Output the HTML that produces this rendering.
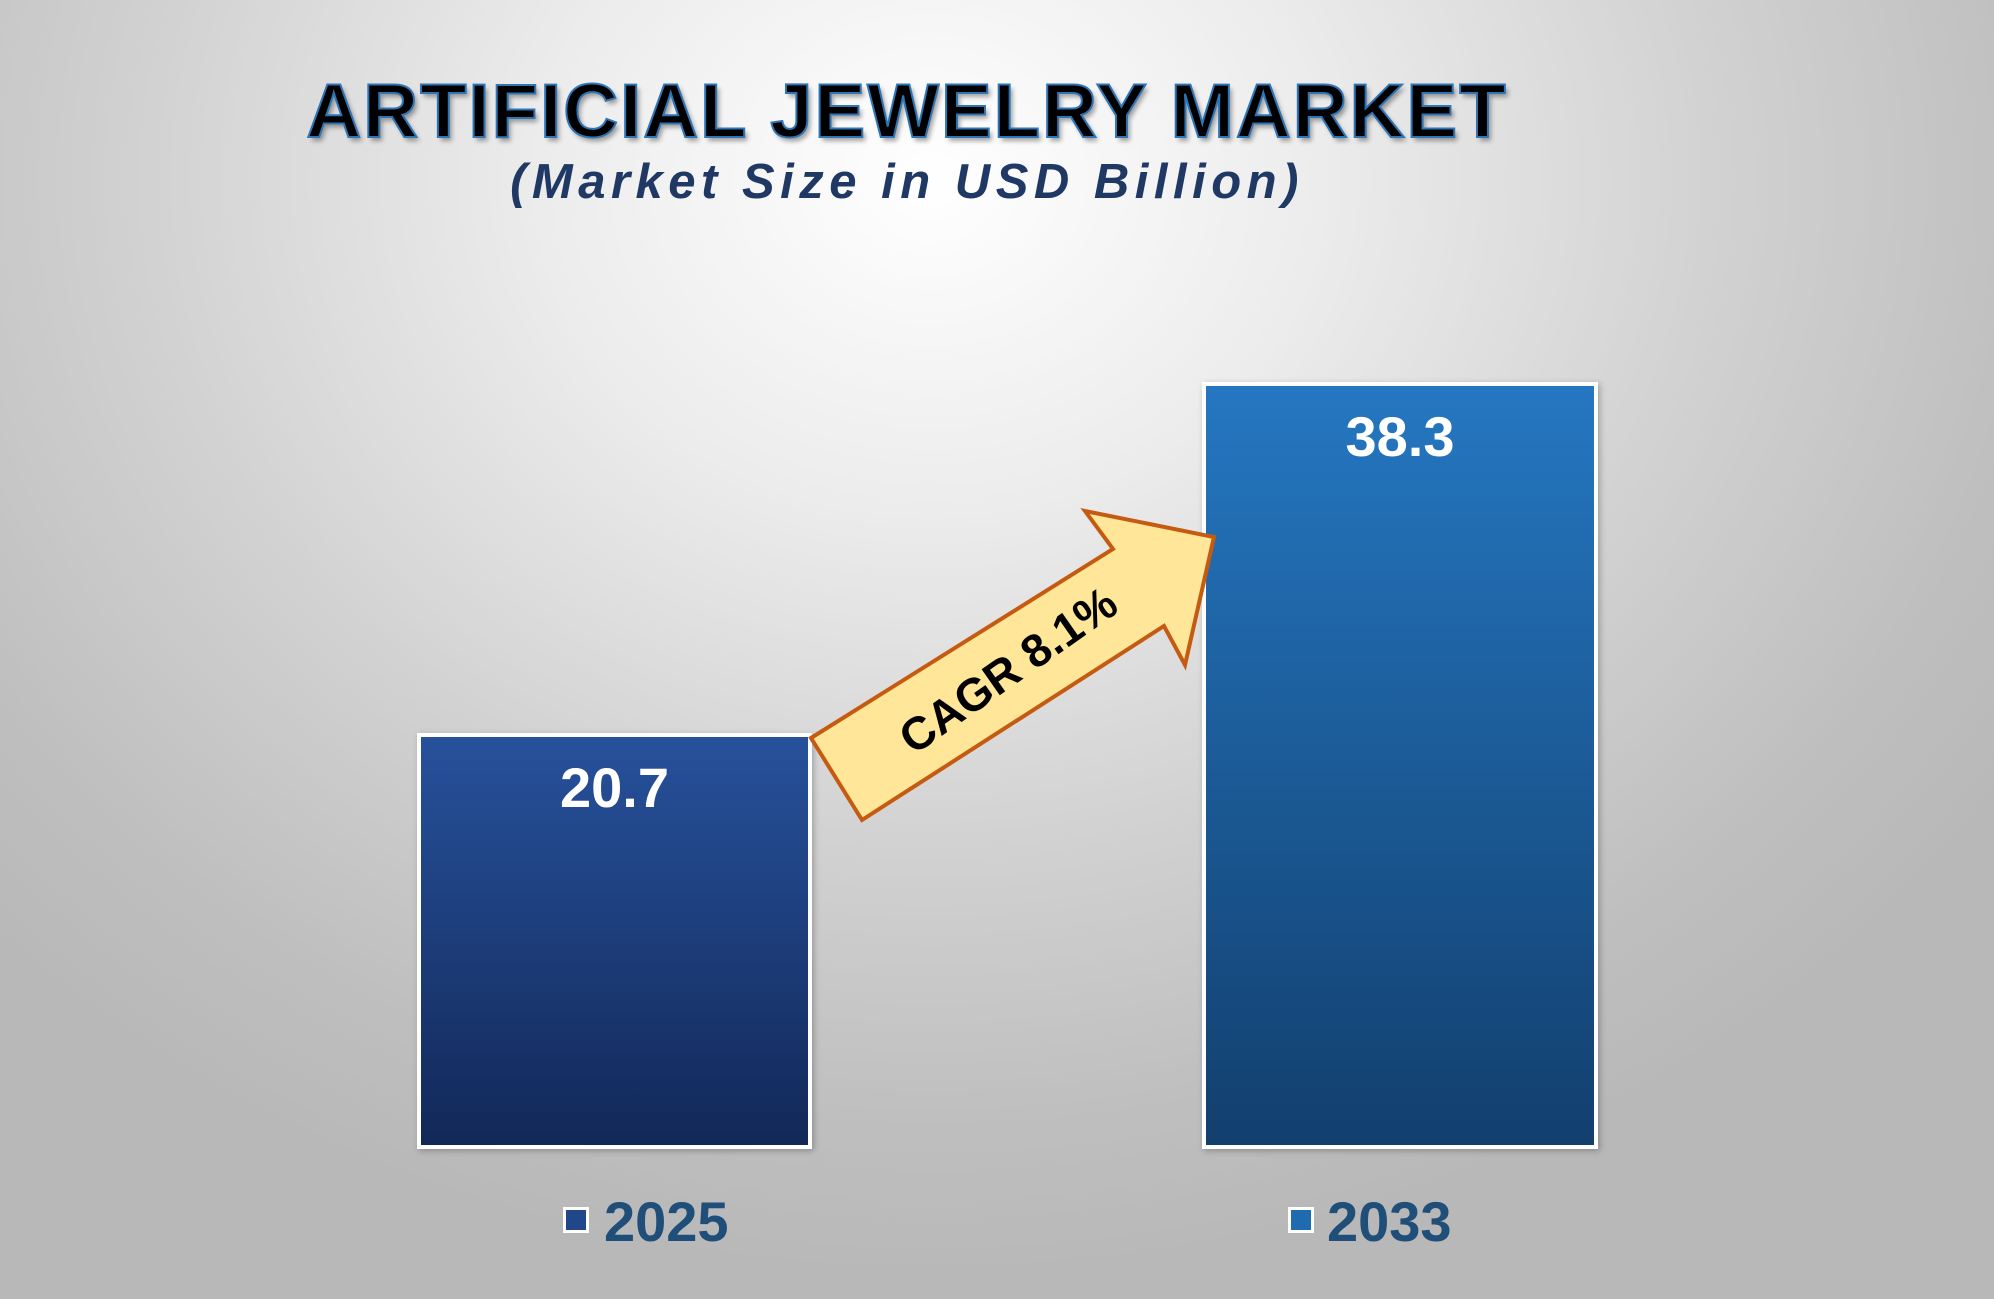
<!DOCTYPE html>
<html><head><meta charset="utf-8"><style>
html,body{margin:0;padding:0}
body{width:1994px;height:1299px;position:relative;overflow:hidden;font-family:"Liberation Sans",Arial,sans-serif;
background:radial-gradient(ellipse 1300px 1100px at 930px 180px,#ffffff 0%,#ececec 30%,#d2d2d2 60%,#bfbfbf 85%,#b8b8b8 100%);}
.t{position:absolute;left:0;width:1994px;text-align:center;font-weight:bold}
.bar{position:absolute;box-sizing:border-box;border:4px solid #fff;box-shadow:2px 2px 6px rgba(0,0,0,0.25)}
.val{position:absolute;width:100%;text-align:center;color:#fff;font-weight:bold;font-size:56px}
.lg{position:absolute;font-weight:bold;font-size:56px;color:#1f4e79;line-height:1}
.sq{position:absolute;width:20px;height:20px;border:3px solid #fff}
</style></head><body>
<div class="t" style="top:68px;left:-90px;font-size:76px;letter-spacing:2px;color:#000;-webkit-text-stroke:2px #2e75b6;text-shadow:3px 4px 5px rgba(0,0,0,0.35)">ARTIFICIAL JEWELRY MARKET</div>
<div class="t" style="top:154px;left:-90px;font-size:49px;font-style:italic;letter-spacing:5.5px;color:#1f3864">(Market Size in USD Billion)</div>

<div class="bar" style="left:417px;top:733px;width:395px;height:416px;background:linear-gradient(#27519b,#122858)">
<div class="val" style="top:18px">20.7</div></div>
<div class="bar" style="left:1202px;top:382px;width:396px;height:767px;background:linear-gradient(#2577c1,#123f6e)">
<div class="val" style="top:18px">38.3</div></div>

<svg style="position:absolute;left:0;top:0" width="1994" height="1299">
<polygon points="811,738 1113,549 1085,511 1214,537 1185,665 1164,626 862,820" fill="#ffe699" stroke="#c55a11" stroke-width="4" stroke-linejoin="miter"/>
<text x="1008" y="686" transform="rotate(-35 1008 670)" text-anchor="middle" font-family="Liberation Sans, Arial, sans-serif" font-weight="bold" font-size="46" fill="#000">CAGR 8.1%</text>
</svg>

<div class="sq" style="left:563px;top:1207px;background:#22468a"></div>
<div class="lg" style="left:604px;top:1194px">2025</div>
<div class="sq" style="left:1288px;top:1207px;background:#1f6bb0"></div>
<div class="lg" style="left:1327px;top:1194px">2033</div>
</body></html>
